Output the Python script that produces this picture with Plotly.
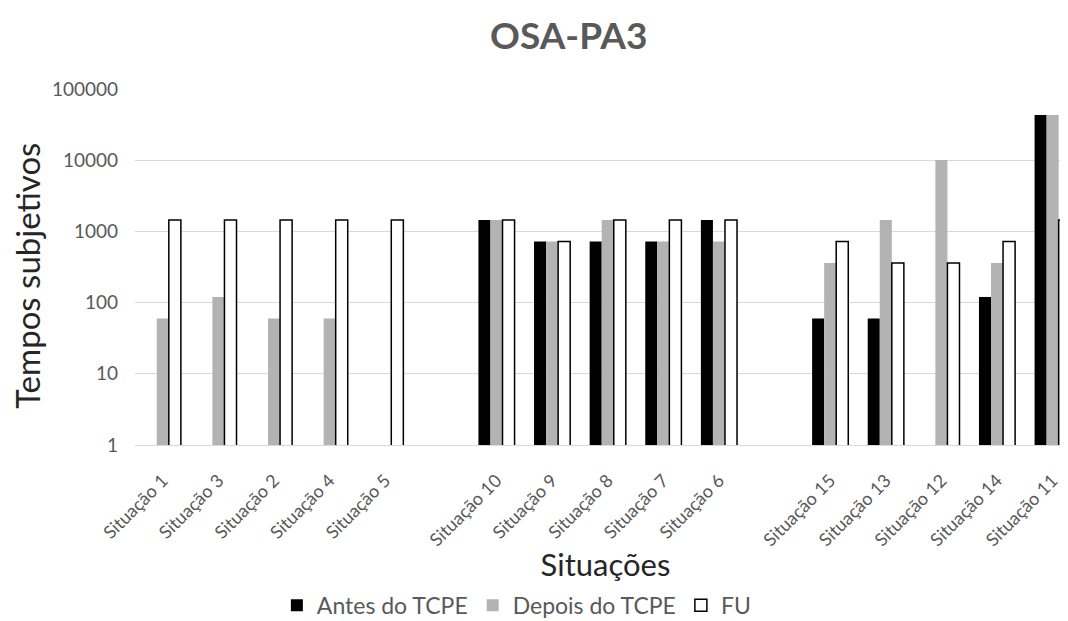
import plotly.graph_objects as go

categories = ["Situação 1", "Situação 3", "Situação 2", "Situação 4", "Situação 5", " ",
              "Situação 10", "Situação 9", "Situação 8", "Situação 7", "Situação 6", "  ",
              "Situação 15", "Situação 13", "Situação 12", "Situação 14", "Situação 11"]
antes = [None, None, None, None, None, None,
         1440, 720, 720, 720, 1440, None,
         60, 60, None, 120, 43200]
depois = [60, 120, 60, 60, None, None,
          1440, 720, 1440, 720, 720, None,
          360, 1440, 10080, 360, 43200]
fu = [1440, 1440, 1440, 1440, 1440, None,
      1440, 720, 1440, 1440, 1440, None,
      720, 360, 360, 720, 1440]
tick_vals = [1, 10, 100, 1000, 10000, 100000]
tick_text = ["1", "10", "100", "1000", "10000", "100000"]

FONT = "Lato"
GREY = "#595959"

fig = go.Figure()
fig.add_trace(go.Bar(name="Antes do TCPE", x=categories, y=antes,
                     marker=dict(color="#000000", line=dict(width=0))))
fig.add_trace(go.Bar(name="Depois do TCPE", x=categories, y=depois,
                     marker=dict(color="#b3b3b3", line=dict(width=0))))
fig.add_trace(go.Bar(name="FU", x=categories, y=fu,
                     marker=dict(color="#ffffff", line=dict(color="#000000", width=1.5))))

fig.update_layout(
    width=1068, height=621,
    paper_bgcolor="white", plot_bgcolor="white",
    margin=dict(l=127, r=0, t=81, b=184, autoexpand=False),
    barmode="group", bargap=0.35, bargroupgap=0,
    font=dict(family=FONT, color=GREY),
    title=dict(text="<b>OSA-PA3</b>", x=0.525, xanchor="center", y=0.955, yanchor="middle",
               font=dict(family=FONT, size=37, color=GREY)),
    showlegend=True,
    legend=dict(orientation="h", xref="container", yref="container", x=0.476, xanchor="center",
                y=0.038, yanchor="middle", font=dict(family=FONT, size=23, color=GREY),
                itemwidth=30, traceorder="normal"),
    annotations=[dict(text="Tempos subjetivos", xref="paper", yref="paper",
                      x=-0.1148, y=0.475, xanchor="center", yanchor="middle",
                      textangle=-90, showarrow=False,
                      font=dict(family=FONT, size=33, color="#262626"))],
)
fig.update_xaxes(
    type="category", range=[-0.5, 16.42],
    tickangle=-45, tickfont=dict(family=FONT, size=18, color=GREY),
    showgrid=False, showline=True, linecolor="#d9d9d9", linewidth=1,
    ticks="", ticklabelstandoff=17,
    title=dict(text="Situações", font=dict(family=FONT, size=31, color="#262626"), standoff=4),
)
fig.update_yaxes(
    type="log", range=[0, 5],
    tickvals=tick_vals, ticktext=tick_text,
    tickfont=dict(family=FONT, size=19, color=GREY),
    showgrid=True, gridcolor="#d9d9d9", gridwidth=1,
    zeroline=False, showline=False, ticks="", ticklabelstandoff=16,
)

fig.write_html("out.html")
